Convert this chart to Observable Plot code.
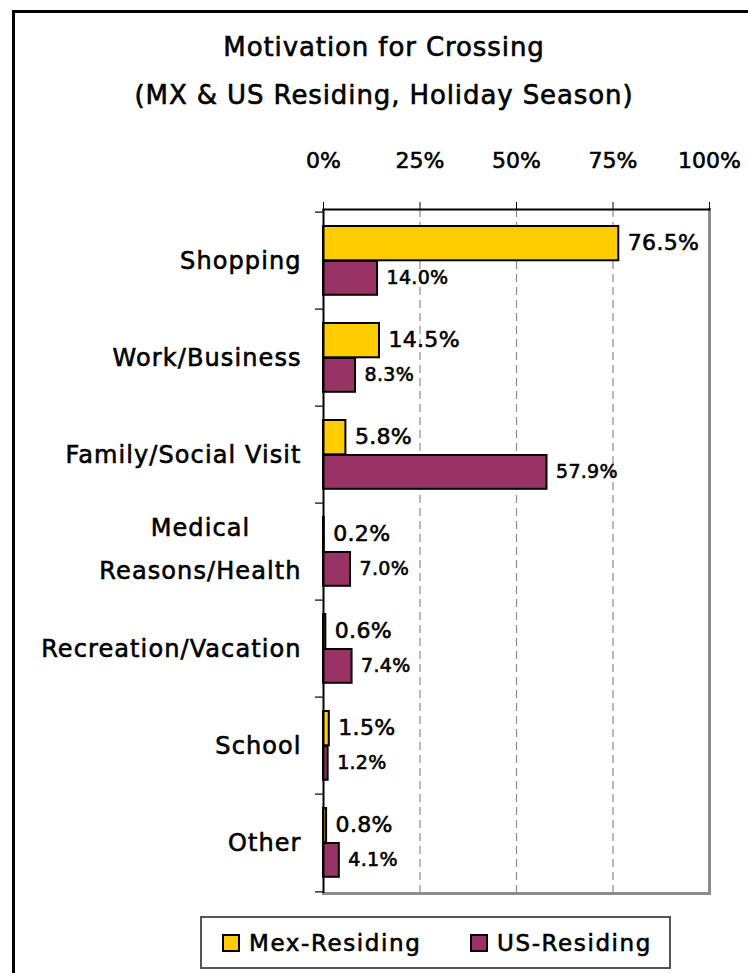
<!DOCTYPE html>
<html><head><meta charset="utf-8">
<script src="https://cdn.jsdelivr.net/npm/d3@7"></script>
<script src="https://cdn.jsdelivr.net/npm/@observablehq/plot@0.6"></script>
<style>
html,body{margin:0;padding:0;background:#fff;width:748px;height:973px;overflow:hidden;font-family:"DejaVu Sans",sans-serif;color:#000;}
#frame{position:absolute;left:12px;top:10px;width:800px;height:1000px;border:3px solid #000;}
#title{position:absolute;left:10px;width:748px;top:23px;text-align:center;font-size:26px;line-height:48px;letter-spacing:0.9px;-webkit-text-stroke:0.6px #000;}
#chart{position:absolute;left:0;top:120px;}
#chart svg text{stroke:#000;stroke-width:0.6px;}
#legend{position:absolute;left:200px;top:916px;width:471px;height:53px;box-sizing:border-box;border:2px solid #555;background:#fff;}
.item{position:absolute;top:0;height:49px;display:flex;align-items:center;font-size:23px;letter-spacing:1.6px;white-space:nowrap;-webkit-text-stroke:0.6px #000;}
.sw{width:18px;height:18px;box-sizing:border-box;border:2px solid #000;margin-right:9px;}
</style></head><body>
<div id="frame"></div>
<div id="title">Motivation for Crossing<br>(MX &amp; US Residing, Holiday Season)</div>
<div id="chart"></div>
<div id="legend"></div>
<script>
const categories = ["Shopping","Work/Business","Family/Social Visit","Medical Reasons/Health","Recreation/Vacation","School","Other"];
const categoryLines = [["Shopping"],["Work/Business"],["Family/Social Visit"],["Medical","Reasons/Health"],["Recreation/Vacation"],["School"],["Other"]];
const mexResiding = [76.5,14.5,5.8,0.2,0.6,1.5,0.8];
const usResiding = [14.0,8.3,57.9,7.0,7.4,1.2,4.1];
const xTicks = [0,25,50,75,100];
const gridTicks = [25,50,75];
const seriesNames = ["Mex-Residing","US-Residing"];
const seriesColors = ["#FFCC00","#993366"];

const mexRows = categories.map((c,i)=>({category:c, value:mexResiding[i]}));
const usRows = categories.map((c,i)=>({category:c, value:usResiding[i]}));
const fmt = v => v.toFixed(1) + "%";

const W = 748, H = 785, mt = 89, mb = 12, ml = 323, mr = 39;
const bw = (H - mt - mb) / categories.length;
const LS = 1.1;

const singleLabels = [], firstLines = [], lastLines = [];
categories.forEach((c,i)=>{
  const L = categoryLines[i];
  if (L.length === 1) singleLabels.push({category:c, text:L[0]});
  else { firstLines.push({category:c, text:L[0]}); lastLines.push({category:c, text:L[L.length-1]}); }
});
const ctx = document.createElement("canvas").getContext("2d");
ctx.font = "24px 'DejaVu Sans'";
const lastW = lastLines.length ? ctx.measureText(lastLines[0].text).width + LS*lastLines[0].text.length : 0;
const labelDx = -23 + LS;

const chart = Plot.plot({
  width: W, height: H, marginTop: mt, marginBottom: mb, marginLeft: ml, marginRight: mr,
  style: {fontFamily: "'DejaVu Sans', sans-serif", fontSize: "22px", color: "#000", background: "transparent", overflow: "visible"},
  x: {domain: [0,100], axis: null},
  y: {domain: categories, padding: 0, axis: null},
  marks: [
    Plot.ruleX(gridTicks, {stroke: "#8c8c8c", strokeWidth: 1.2, strokeDasharray: "8,5"}),
    Plot.frame({anchor: "right", stroke: "#8c8c8c", strokeWidth: 3}),
    Plot.frame({anchor: "bottom", stroke: "#8c8c8c", strokeWidth: 3}),
    Plot.barX(mexRows, {y: "category", x: "value", fill: seriesColors[0], stroke: "#000", strokeWidth: 2, insetTop: 14, insetBottom: bw - 49}),
    Plot.barX(usRows, {y: "category", x: "value", fill: seriesColors[1], stroke: "#000", strokeWidth: 2, insetTop: 49, insetBottom: bw - 83.5}),
    Plot.ruleX([0], {stroke: "#000", strokeWidth: 2}),
    Plot.frame({anchor: "top", stroke: "#000", strokeWidth: 2}),
    Plot.ruleY(categories, {y: d => d, x1: 0, x2: 0, insetLeft: -8, dy: -bw/2, stroke: "#333", strokeWidth: 1.5}),
    Plot.ruleY([categories[categories.length-1]], {y: d => d, x1: 0, x2: 0, insetLeft: -8, dy: bw/2, stroke: "#333", strokeWidth: 1.5}),
    Plot.axisX({anchor: "top", ticks: xTicks, tickFormat: d => d + "%", tickSize: 8, tickPadding: 34, fontSize: 22, label: null}),
    Plot.text(mexRows, {y: "category", x: "value", text: d => fmt(d.value), textAnchor: "start", dx: 9, dy: -18, fontSize: 22, fill: "#000"}),
    Plot.text(usRows, {y: "category", x: "value", text: d => fmt(d.value), textAnchor: "start", dx: 9, dy: 17, fontSize: 19, fill: "#000"}),
    Plot.text(singleLabels, {y: "category", text: "text", frameAnchor: "left", textAnchor: "end", dx: labelDx, fontSize: 24, fill: "#000"}),
    Plot.text(lastLines, {y: "category", text: "text", frameAnchor: "left", textAnchor: "end", dx: labelDx, dy: 19, fontSize: 24, fill: "#000"}),
    Plot.text(firstLines, {y: "category", text: "text", frameAnchor: "left", textAnchor: "middle", dx: labelDx - lastW/2, dy: -24, fontSize: 24, fill: "#000"})
  ]
});
document.getElementById("chart").appendChild(chart);
const catTexts = new Set(categoryLines.flat());
const valTexts = new Set(mexResiding.concat(usResiding).map(fmt));
d3.select(chart).selectAll("text").each(function() {
  const s = this.textContent;
  if (catTexts.has(s)) this.style.letterSpacing = LS + "px";
  else if (valTexts.has(s)) this.style.letterSpacing = "0.3px";
});

const legend = document.getElementById("legend");
const legendLefts = [20, 268];
seriesNames.forEach((n,i)=>{
  const it = document.createElement("div");
  it.className = "item";
  it.style.left = legendLefts[i] + "px";
  const sw = document.createElement("div");
  sw.className = "sw";
  sw.style.background = seriesColors[i];
  it.appendChild(sw);
  const t = document.createElement("span");
  t.textContent = n;
  it.appendChild(t);
  legend.appendChild(it);
});
</script>
</body></html>
